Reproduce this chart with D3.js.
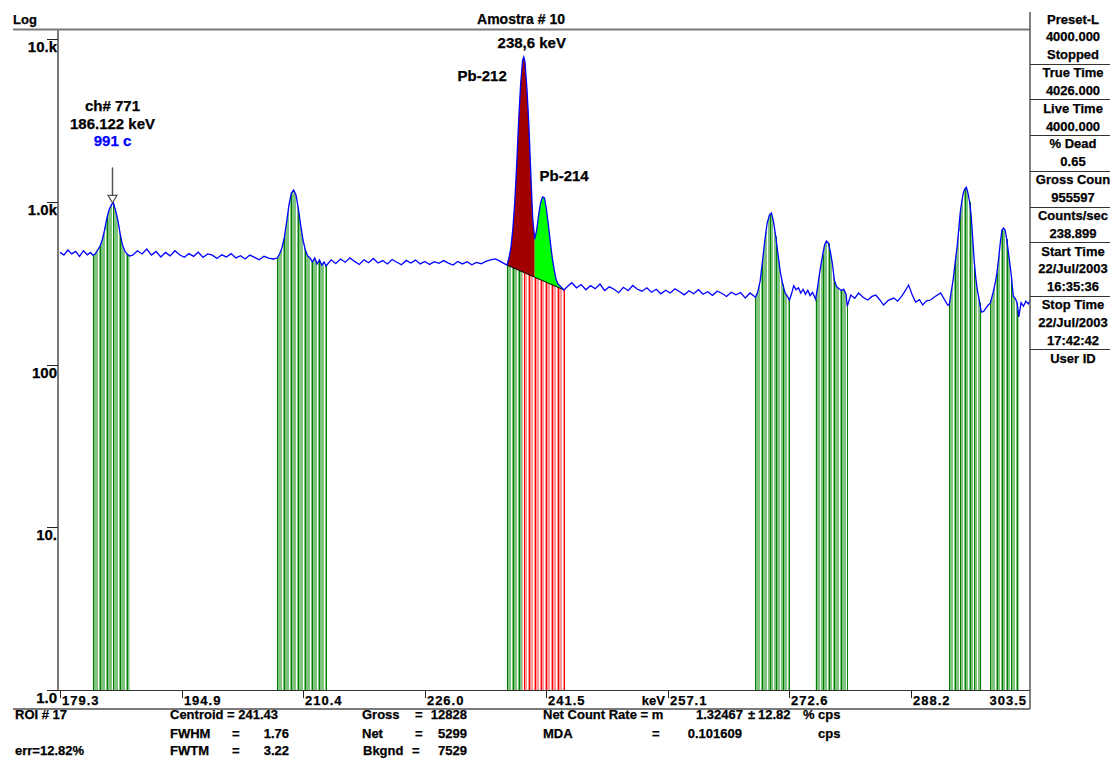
<!DOCTYPE html>
<html lang="pt">
<head>
<meta charset="utf-8">
<title>Amostra # 10</title>
<script src="https://cdn.jsdelivr.net/npm/d3@7"></script>
<style>
  body { margin: 0; background: #fff; }
  svg { display: block; font-family: "Liberation Sans", Arial, sans-serif; font-weight: bold; }
  text { stroke: #000; stroke-width: 0.25px; }
  text.blue { stroke: #0000ff; }
</style>
</head>
<body>
<svg id="chart" width="1110" height="760"></svg>
<script>
// spectrum: energy (keV) and counts per point
var energy = [179.3, 179.8, 180.3, 180.8, 181.3, 181.8, 182.3, 182.8, 183.2,
  183.5, 183.8, 184.1, 184.4, 184.7, 185.0, 185.3, 185.6, 185.9, 186.12, 186.4, 186.7, 187.0, 187.3, 187.6, 187.9, 188.2,
  188.6, 189.2, 189.8, 190.4, 191.0, 191.6, 192.2, 192.8, 193.4, 194.0, 194.6, 195.2, 195.8, 196.4, 197.0, 197.6,
  198.2, 198.8, 199.4, 200.0, 200.6, 201.2, 201.8, 202.4, 203.0, 203.6, 204.2, 204.8, 205.4, 206.0, 206.6,
  207.1, 207.4, 207.7, 208.0, 208.3, 208.6, 208.9, 209.2, 209.5, 209.8, 210.1, 210.4, 210.7, 211.0, 211.3, 211.6,
  211.9, 212.2, 212.5, 212.8, 213.1, 213.35,
  214.0, 214.6, 215.2, 215.8, 216.4, 217.0, 217.6, 218.2, 218.8, 219.4, 220.0, 220.6, 221.2, 221.8, 222.4, 223.0,
  223.6, 224.2, 224.8, 225.4, 226.0, 226.6, 227.2, 227.8, 228.4, 229.0, 229.6, 230.2, 230.8, 231.4, 232.0, 232.6,
  233.2, 233.8, 234.4, 235.0, 235.6, 236.1,
  236.5, 236.75, 237.0, 237.25, 237.5, 237.75, 238.0, 238.25, 238.5, 238.65, 238.8, 239.05, 239.3, 239.55, 239.8,
  240.05, 240.3, 240.55, 240.8, 241.05, 241.3, 241.55, 241.8, 242.05, 242.3, 242.55, 242.8, 243.05, 243.3, 243.55, 243.8,
  244.2, 244.8, 245.4, 246.0, 246.6, 247.2, 247.8, 248.4, 249.0, 249.6, 250.2, 250.8, 251.4, 252.0, 252.6, 253.2,
  253.8, 254.4, 255.0, 255.6, 256.2, 256.8, 257.4, 258.0, 258.6, 259.2, 259.8, 260.4, 261.0, 261.6, 262.2, 262.8,
  263.4, 264.0, 264.6, 265.2, 265.8, 266.4, 267.0, 267.6,
  268.3, 268.6, 268.9, 269.2, 269.5, 269.8, 270.1, 270.35, 270.6, 270.9, 271.2, 271.5, 271.8, 272.1, 272.4, 272.65,
  272.9, 273.2, 273.5, 273.8, 274.1, 274.4, 274.7, 275.0, 275.3, 275.6,
  276.0, 276.3, 276.6, 276.9, 277.15, 277.4, 277.65, 277.9, 278.15, 278.4, 278.7, 279.0, 279.3, 279.6, 279.9, 280.05,
  280.5, 281.0, 281.5, 282.1, 282.7, 283.2, 283.7, 284.2, 284.7, 285.3, 286.0, 286.5, 287.0, 287.5, 287.9, 288.4,
  288.8, 289.3, 289.7, 290.2, 290.7, 291.3, 292.0, 292.5, 292.9,
  293.1, 293.35, 293.6, 293.85, 294.1, 294.3, 294.5, 294.7, 294.9, 295.1, 295.3, 295.5, 295.7, 295.9, 296.1, 296.3,
  296.5, 296.7, 297.0, 297.2, 297.5, 297.8, 298.1,
  298.35, 298.7, 299.0, 299.2, 299.45, 299.65, 299.85, 300.05, 300.25, 300.45, 300.65, 300.85, 301.05, 301.3, 301.55,
  301.8, 302.0, 302.3, 302.6, 302.9, 303.2, 303.5];
var counts = [490, 470, 505, 478, 495, 462, 500, 472, 488,
  470, 477, 505, 530, 582, 670, 795, 900, 960, 991, 889, 773, 634, 542, 498, 477, 464,
  470, 500, 478, 512, 470, 495, 458, 488, 465, 500, 472, 456, 480, 462, 490, 455,
  478, 470, 448, 472, 458, 480, 452, 466, 445, 470, 455, 440, 462, 450, 445,
  451, 477, 520, 600, 750, 953, 1130, 1181, 1100, 910, 720, 582, 505, 464, 451, 427,
  451, 415, 439, 408, 427, 403,
  440, 418, 445, 425, 452, 430, 412, 440, 422, 448, 420, 435, 415, 442, 425, 410,
  436, 420, 438, 415, 430, 412, 428, 418, 435, 420, 408, 430, 415, 428, 410, 424,
  416, 430, 440, 445, 432, 418,
  408, 451, 520, 680, 1000, 1700, 3200, 5300, 7400, 7750, 7300, 5000, 3000, 1500, 780,
  590, 670, 829, 983, 1070, 1055, 900, 720, 565, 451, 381, 331, 312, 304, 295, 287,
  300, 318, 296, 310, 288, 305, 292, 312, 285, 300, 290, 276, 298, 284, 306, 290,
  282, 296, 278, 290, 272, 286, 275, 292, 280, 268, 284, 272, 288, 270, 280, 266,
  282, 274, 262, 278, 268, 277, 256, 275,
  259, 280, 325, 430, 580, 740, 830, 853, 760, 610, 470, 365, 310, 275, 262, 249,
  270, 305, 288, 296, 275, 290, 270, 285, 265, 278,
  252, 310, 390, 470, 545, 574, 555, 490, 415, 330, 300, 292, 285, 290, 270, 228,
  267, 255, 275, 258, 249, 262, 267, 250, 232, 248, 256, 245, 262, 285, 308, 265,
  242, 250, 232, 246, 249, 262, 275, 250, 232,
  232, 280, 331, 420, 527, 660, 853, 1000, 1130, 1200, 1227, 1130, 1000, 830, 600, 430,
  340, 287, 240, 210, 212, 222, 232,
  238, 275, 320, 365, 460, 570, 670, 690, 670, 590, 500, 420, 350, 262, 255,
  238, 196, 240, 228, 245, 236, 250];

// regions of interest (keV)
var roiStart = [183.5, 207.1, 236.5, 268.3, 276.0, 293.1, 298.35];
var roiEnd = [188.2, 213.35, 243.8, 272.65, 280.05, 297.2, 302.0];
var pbRoi = 2;          // the ROI with the Pb-212 / Pb-214 doublet
var pbSplit = 238.5;    // red bars start here
var pbValley = 240.05;  // between the two peaks

var xTicks = [179.3, 194.9, 210.4, 226.0, 241.5, 257.1, 272.6, 288.2];
var xTickLabels = ["179.3", "194.9", "210.4", "226.0", "241.5", "257.1", "272.6", "288.2"];
var xEndLabel = "303.5";
var yTicks = [1, 10, 100, 1000, 10000];
var yTickLabels = ["1.0", "10.", "100", "1.0k", "10.k"];

var panelRows = ["Preset-L", "4000.000", "Stopped", "True Time", "4026.000", "Live Time", "4000.000",
  "% Dead", "0.65", "Gross Coun", "955597", "Counts/sec", "238.899", "Start Time", "22/Jul/2003",
  "16:35:36", "Stop Time", "22/Jul/2003", "17:42:42", "User ID"];
var panelBreaks = [2, 4, 6, 8, 10, 12, 15, 18];

var svg = d3.select("#chart");
var plotL = 58, plotR = 1030, plotT = 29, plotB = 690;

var x = d3.scaleLinear().domain([179.3, 303.5]).range([60, 1030.5]);
var y = d3.scaleLog().domain([1, 10000]).range([plotB, 39]);

var data = energy.map(function(e, i) { return {e: e, c: counts[i]}; });

svg.append("defs").append("clipPath").attr("id", "plotclip")
  .append("rect").attr("x", plotL).attr("y", plotT).attr("width", plotR - plotL).attr("height", plotB - plotT);

var plot = svg.append("g").attr("clip-path", "url(#plotclip)");

function roiPoints(k) {
  return data.filter(function(d) { return d.e >= roiStart[k] - 0.001 && d.e <= roiEnd[k] + 0.001; });
}
function stripe(i, dark) {
  if (i % 3 == 0) return dark;
  if (i % 3 == 2) return "#ffffff";
  return "none";
}

// green ROI bars under the curve
roiStart.forEach(function(s, k) {
  if (k == pbRoi) return;
  var pts = roiPoints(k);
  plot.append("path").datum(pts)
    .attr("d", d3.area().x(function(d) { return x(d.e); }).y0(plotB).y1(function(d) { return y(d.c); }))
    .attr("fill", "#80c480");
  plot.selectAll(null).data(pts).enter().append("line")
    .attr("x1", function(d) { return Math.round(x(d.e)) + 0.5; })
    .attr("x2", function(d) { return Math.round(x(d.e)) + 0.5; })
    .attr("y1", function(d) { return y(d.c); })
    .attr("y2", plotB)
    .attr("stroke", function(d, i) { return stripe(i, "#008000"); })
    .attr("stroke-width", 1);
});

// Pb doublet: straight background line between the ROI ends
var pb = roiPoints(pbRoi);
var b0 = pb[0], b1 = pb[pb.length - 1];
function baseY(e) {
  var t = (x(e) - x(b0.e)) / (x(b1.e) - x(b0.e));
  return y(b0.c) + t * (y(b1.c) - y(b0.c));
}
var under = d3.area().x(function(d) { return x(d.e); }).y0(plotB).y1(function(d) { return baseY(d.e); });
var above = d3.area().x(function(d) { return x(d.e); }).y0(function(d) { return baseY(d.e); }).y1(function(d) { return y(d.c); });

var pbLeft = pb.filter(function(d) { return d.e <= pbSplit; });
var pbRight = pb.filter(function(d) { return d.e >= pbSplit; });
plot.append("path").datum(pbLeft).attr("d", under).attr("fill", "#80c480");
plot.append("path").datum(pbRight).attr("d", under).attr("fill", "#ff9a9a");
plot.selectAll(null).data(pb).enter().append("line")
  .attr("x1", function(d) { return Math.round(x(d.e)) + 0.5; })
  .attr("x2", function(d) { return Math.round(x(d.e)) + 0.5; })
  .attr("y1", function(d) { return baseY(d.e); })
  .attr("y2", plotB)
  .attr("stroke", function(d, i) { return stripe(i, d.e < pbSplit ? "#008000" : "#ff0000"); });

plot.append("path").datum(pb.filter(function(d) { return d.e <= pbValley; }))
  .attr("d", above).attr("fill", "#a00000");
plot.append("path").datum(pb.filter(function(d) { return d.e >= pbValley; }))
  .attr("d", above).attr("fill", "#00ff00");
plot.append("line")
  .attr("x1", x(b0.e)).attr("y1", y(b0.c)).attr("x2", x(b1.e)).attr("y2", y(b1.c))
  .attr("stroke", "#000").attr("stroke-width", 1);

// spectrum
plot.append("path").datum(data)
  .attr("d", d3.line().x(function(d) { return x(d.e); }).y(function(d) { return y(d.c); }))
  .attr("fill", "none")
  .attr("stroke", "#0000ff")
  .attr("stroke-width", 1.3);

// frame lines
svg.append("line").attr("x1", 13).attr("x2", plotR).attr("y1", plotT + 0.5).attr("y2", plotT + 0.5).attr("stroke", "#7a7a7a").attr("stroke-width", 2);
svg.append("line").attr("x1", plotL).attr("x2", plotL).attr("y1", plotT).attr("y2", plotB).attr("stroke", "#7a7a7a").attr("stroke-width", 2);
svg.append("line").attr("x1", plotL).attr("x2", plotR).attr("y1", plotB + 0.5).attr("y2", plotB + 0.5).attr("stroke", "#333");
svg.append("line").attr("x1", 13).attr("x2", plotR).attr("y1", 709).attr("y2", 709).attr("stroke", "#7a7a7a").attr("stroke-width", 2);
svg.append("line").attr("x1", plotR).attr("x2", plotR).attr("y1", 12).attr("y2", 709).attr("stroke", "#555").attr("stroke-width", 1.5);

// y axis ticks
svg.selectAll(null).data(yTicks).enter().append("line")
  .attr("x1", 47).attr("x2", plotL)
  .attr("y1", function(d) { return Math.round(y(d)) + 0.5; })
  .attr("y2", function(d) { return Math.round(y(d)) + 0.5; })
  .attr("stroke", "#222");
svg.selectAll(null).data(yTicks).enter().append("text")
  .attr("x", 57).attr("y", function(d) { return y(d) + 13; })
  .attr("text-anchor", "end").attr("font-size", 15)
  .text(function(d, i) { return yTickLabels[i]; });

// x axis ticks
svg.selectAll(null).data(xTicks).enter().append("line")
  .attr("x1", function(d) { return Math.round(x(d)) + 0.5; })
  .attr("x2", function(d) { return Math.round(x(d)) + 0.5; })
  .attr("y1", 691).attr("y2", 698).attr("stroke", "#222");
svg.selectAll(null).data(xTicks).enter().append("text")
  .attr("x", function(d) { return x(d) + 2; }).attr("y", 705)
  .attr("font-size", 13).attr("letter-spacing", 1)
  .text(function(d, i) { return xTickLabels[i]; });
svg.append("text").attr("x", 1027).attr("y", 705).attr("text-anchor", "end")
  .attr("font-size", 13).attr("letter-spacing", 1).text(xEndLabel);
svg.append("text").attr("x", x(257.1) - 3).attr("y", 705).attr("text-anchor", "end")
  .attr("font-size", 13).text("keV");

// header
svg.append("text").attr("x", 13).attr("y", 24).attr("font-size", 13).text("Log");
svg.append("text").attr("x", 521).attr("y", 24).attr("text-anchor", "middle").attr("font-size", 14).text("Amostra # 10");

// marker on the first peak
var mk = {e: 186.12, c: 991};
var mx = Math.round(x(mk.e)) - 0.5, my = y(mk.c);
svg.append("line").attr("x1", mx).attr("x2", mx).attr("y1", my - 35).attr("y2", my - 7).attr("stroke", "#555").attr("stroke-width", 1.5);
svg.append("path")
  .attr("d", "M" + (mx - 4.5) + "," + (my - 7) + "L" + (mx + 4.5) + "," + (my - 7) + "L" + mx + "," + (my + 0.5) + "Z")
  .attr("fill", "#fff").attr("stroke", "#555").attr("stroke-width", 1.2);
svg.append("text").attr("x", mx).attr("y", my - 91).attr("text-anchor", "middle").attr("font-size", 15).text("ch# 771");
svg.append("text").attr("x", mx).attr("y", my - 73).attr("text-anchor", "middle").attr("font-size", 15).text("186.122 keV");
svg.append("text").attr("class", "blue").attr("x", mx).attr("y", my - 56).attr("text-anchor", "middle").attr("font-size", 15).attr("fill", "#0000ff").text("991 c");

// peak labels
svg.append("text").attr("x", x(238.65) + 8).attr("y", y(7750) - 9).attr("text-anchor", "middle").attr("font-size", 15).text("238,6 keV");
svg.append("text").attr("x", x(238.65) - 17).attr("y", 81).attr("text-anchor", "end").attr("font-size", 15).text("Pb-212");
svg.append("text").attr("x", x(241.05) - 3).attr("y", y(1070) - 16).attr("font-size", 15).text("Pb-214");

// right status panel
svg.selectAll(null).data(panelRows).enter().append("text")
  .attr("x", 1073).attr("y", function(d, i) { return 23.5 + i * 17.85; })
  .attr("text-anchor", "middle").attr("font-size", 13)
  .text(function(d) { return d; });
svg.selectAll(null).data(panelBreaks).enter().append("line")
  .attr("x1", plotR).attr("x2", 1110)
  .attr("y1", function(d) { return Math.round(19 + d * 17.85 + 9) + 0.5; })
  .attr("y2", function(d) { return Math.round(19 + d * 17.85 + 9) + 0.5; })
  .attr("stroke", "#333");

// ROI report under the axis
var info = [
  ["ROI # 17", 15, 719, "start"], ["Centroid = 241.43", 170, 719, "start"],
  ["FWHM", 170, 738, "start"], ["=", 232, 738, "start"], ["1.76", 289, 738, "end"],
  ["err=12.82%", 15, 755, "start"],
  ["FWTM", 170, 755, "start"], ["=", 232, 755, "start"], ["3.22", 289, 755, "end"],
  ["Gross", 362, 719, "start"], ["=", 415, 719, "start"], ["12828", 467, 719, "end"],
  ["Net", 362, 738, "start"], ["=", 415, 738, "start"], ["5299", 467, 738, "end"],
  ["Bkgnd", 363, 755, "start"], ["=", 412, 755, "start"], ["7529", 467, 755, "end"],
  ["Net Count Rate = m", 543, 719, "start"], ["1.32467", 743, 719, "end"],
  ["±", 748, 719, "start"], ["12.82", 758, 719, "start"], ["%", 803, 719, "start"], ["cps", 818, 719, "start"],
  ["MDA", 543, 738, "start"], ["=", 652, 738, "start"], ["0.101609", 742, 738, "end"], ["cps", 818, 738, "start"]
];
svg.selectAll(null).data(info).enter().append("text")
  .attr("x", function(d) { return d[1]; })
  .attr("y", function(d) { return d[2]; })
  .attr("text-anchor", function(d) { return d[3]; })
  .attr("font-size", 13)
  .text(function(d) { return d[0]; });
</script>
</body>
</html>
